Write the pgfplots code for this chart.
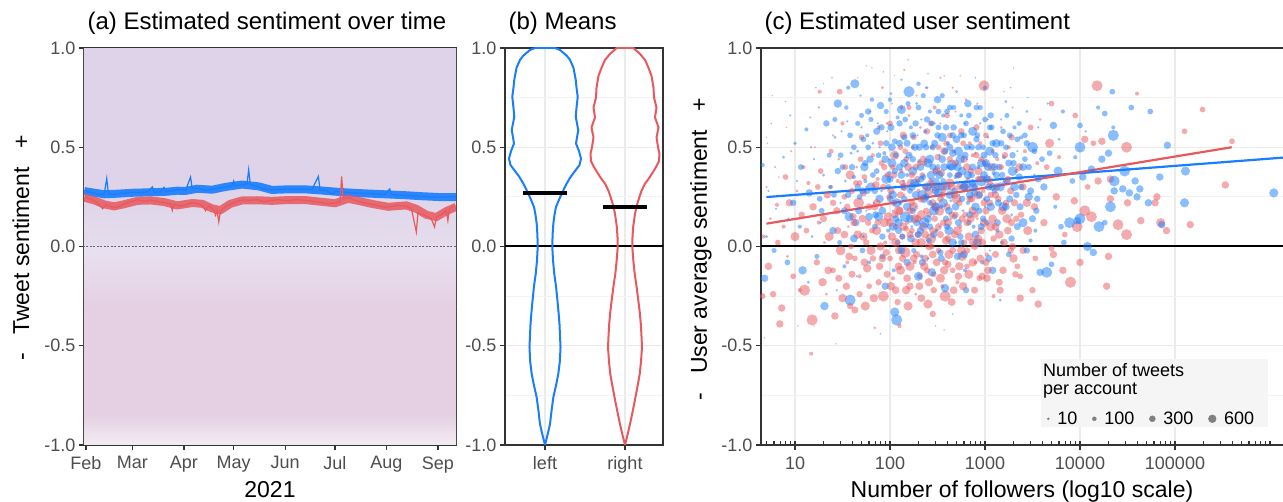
\documentclass[border=0pt]{standalone}
\usepackage{fontspec}
\setmainfont{Liberation Sans}
\usepackage{pgfplots}
\pgfplotsset{compat=1.18}

\definecolor{lblue}{RGB}{24,125,255}
\definecolor{lred}{RGB}{232,88,93}
\definecolor{gthirty}{HTML}{4D4D4D}
\definecolor{gtwenty}{HTML}{333333}
\definecolor{gridc}{HTML}{EBEBEB}
\definecolor{gridm}{HTML}{F3F3F3}
\definecolor{bgA}{RGB}{222,211,232}
\definecolor{bgB}{RGB}{229,221,238}
\definecolor{bgC}{RGB}{232,225,241}
\definecolor{bgD}{RGB}{229,208,227}
\definecolor{bgE}{RGB}{243,236,243}

\newcommand\fs[1]{\fontsize{#1}{#1}\selectfont}

\pgfplotsset{
  panel/.style={
    scale only axis, height=397pt, anchor=south west,
    axis line style={gtwenty, line width=1.3pt},
    tick style={gtwenty, line width=1.2pt},
    major tick length=5pt, minor tick length=0pt,
    tick align=outside, xtick pos=left, ytick pos=left,
    tick label style={font=\fs{18}, text=gthirty},
    xticklabel style={yshift=-3pt},
    ymin=-1, ymax=1, ytick={-1,-0.5,0,0.5,1},
    yticklabels={-1.0,-0.5,0.0,0.5,1.0},
  },
  dots/.style={scatter, only marks, mark=*,
    scatter/use mapped color={draw=#1, draw opacity=0, fill=#1, fill opacity=0.5},
    visualization depends on={\thisrow{s}\as\ms},
    scatter/@pre marker code/.append style={/tikz/mark size={min(1.7*\ms-0.5,5.6)}}},
}

\begin{document}
\begin{tikzpicture}
\useasboundingbox (0pt,0pt) rectangle (1283pt,502pt);

% (a) sentiment over time
\begin{axis}[panel, at={(84pt,57pt)}, width=372pt,
  xmin=-1.2, xmax=222.9,
  xtick={0,28,59,89,120,150,181,212},
  xticklabels={Feb,Mar,Apr,May,Jun,Jul,Aug,Sep}]
\addplot[draw=none, fill=bgA] coordinates {(-2,0.3) (224,0.3) (224,1) (-2,1)} -- cycle;
\addplot[draw=none, top color=bgA, bottom color=bgB] coordinates {(-2,0) (224,0) (224,0.3) (-2,0.3)} -- cycle;
\addplot[draw=none, top color=bgC, bottom color=bgD] coordinates {(-2,-0.3) (224,-0.3) (224,0) (-2,0)} -- cycle;
\addplot[draw=none, fill=bgD] coordinates {(-2,-0.85) (224,-0.85) (224,-0.3) (-2,-0.3)} -- cycle;
\addplot[draw=none, top color=bgD, bottom color=bgE] coordinates {(-2,-1) (224,-1) (224,-0.85) (-2,-0.85)} -- cycle;
\addplot[black!80, line width=1.3pt, dash pattern=on 2pt off 1.5pt, opacity=0.7] coordinates {(-2,0) (224,0)};
% smoothed bands
\addplot[lblue, line width=8pt, opacity=0.9] table {
-1 0.279
5 0.271
11 0.263
19 0.266
29 0.271
39 0.273
49 0.276
55 0.281
60 0.280
67 0.291
76 0.286
84 0.300
94 0.312
104 0.303
112 0.285
122 0.288
132 0.288
142 0.282
152 0.275
162 0.270
172 0.266
183 0.262
193 0.258
203 0.253
213 0.249
223 0.249
};
\addplot[lred, line width=8pt, opacity=0.85] table {
-1 0.246
5 0.232
11 0.212
17 0.202
23 0.213
31 0.230
39 0.232
47 0.224
55 0.207
64 0.219
70 0.215
76 0.192
81 0.183
87 0.215
94 0.232
103 0.233
112 0.230
122 0.234
132 0.234
142 0.225
150 0.218
158 0.240
164 0.230
172 0.215
182 0.200
193 0.207
199 0.190
205 0.160
211 0.148
217 0.178
223 0.200
};
% daily values
\addplot[lblue, line width=1.2pt] table {
-1 0.282
2 0.274
5 0.268
8 0.262
11 0.264
12.5 0.343
13.5 0.266
17 0.262
21 0.268
25 0.270
29 0.273
33 0.271
37 0.276
40 0.300
41 0.272
45 0.276
47 0.298
48 0.277
52 0.280
56 0.288
60 0.283
63 0.350
64 0.292
68 0.293
72 0.282
76 0.288
80 0.294
84 0.300
88 0.306
89 0.330
90 0.305
94 0.312
97 0.315
98 0.387
99 0.312
103 0.303
107 0.290
112 0.285
116 0.287
121 0.289
126 0.288
131 0.288
136 0.286
140 0.353
141 0.284
145 0.280
149 0.262
150 0.278
154 0.275
158 0.272
162 0.270
166 0.268
170 0.267
175 0.265
180 0.263
183 0.290
184 0.262
188 0.258
193 0.257
198 0.255
203 0.252
208 0.250
213 0.249
218 0.250
223 0.252
};
\addplot[lred, line width=1.2pt] table {
-1 0.250
3 0.238
6 0.226
9 0.200
10 0.190
12 0.212
15 0.200
18 0.196
21 0.205
24 0.218
28 0.228
31 0.236
35 0.228
39 0.234
43 0.226
47 0.222
51 0.215
52 0.182
53 0.212
57 0.204
61 0.212
64 0.222
68 0.214
71 0.200
72 0.180
74 0.205
77 0.185
78 0.157
79 0.180
80 0.124
81 0.178
84 0.200
87 0.214
91 0.228
95 0.235
99 0.232
103 0.236
107 0.226
111 0.232
116 0.236
121 0.230
126 0.236
131 0.233
136 0.228
141 0.223
146 0.215
150 0.220
153 0.225
154 0.353
155 0.240
158 0.246
161 0.236
164 0.228
168 0.218
172 0.212
176 0.205
180 0.198
184 0.202
188 0.208
192 0.205
196 0.192
199 0.073
200 0.170
203 0.160
206 0.150
208 0.140
210 0.098
211 0.150
214 0.160
217 0.182
218 0.130
219 0.190
222 0.205
};
\end{axis}

% (b) means
\begin{axis}[panel, at={(505pt,57pt)}, width=158pt,
  xmin=0.5, xmax=2.475, xtick={1,2}, xticklabels={left,right},
  minor ytick={-0.75,-0.25,0.25,0.75},
  xmajorgrids, ymajorgrids, yminorgrids,
  major grid style={gridc, line width=1.3pt},
  minor grid style={gridm, line width=0.9pt}]
\addplot[black, line width=2pt] coordinates {(0.4,0) (2.6,0)};
\addplot[lblue, line width=2pt, line join=round] coordinates {
(0.875,1.00) (0.8125,0.99) (0.725,0.96) (0.6875,0.94) (0.644,0.90) (0.616,0.84)
(0.606,0.80) (0.591,0.754) (0.606,0.70) (0.616,0.653) (0.60,0.62) (0.584,0.586)
(0.60,0.55) (0.6125,0.519) (0.575,0.48) (0.55,0.443) (0.569,0.41) (0.625,0.38)
(0.681,0.35) (0.729,0.317) (0.7625,0.29) (0.791,0.266) (0.831,0.23) (0.8625,0.199)
(0.881,0.16) (0.896,0.115) (0.905,0.06) (0.909,0.00) (0.90,-0.07) (0.884,-0.138)
(0.8625,-0.20) (0.844,-0.273) (0.831,-0.33) (0.819,-0.39) (0.8125,-0.45) (0.806,-0.508)
(0.815,-0.58) (0.834,-0.643) (0.8625,-0.70) (0.896,-0.76) (0.919,-0.83) (0.9375,-0.895)
(0.969,-0.95) (1,-1)
(1.031,-0.95) (1.0625,-0.895) (1.081,-0.83) (1.104,-0.76) (1.1375,-0.70) (1.166,-0.643)
(1.185,-0.58) (1.194,-0.508) (1.1875,-0.45) (1.181,-0.39) (1.169,-0.33) (1.156,-0.273)
(1.1375,-0.20) (1.116,-0.138) (1.10,-0.07) (1.091,0.00) (1.095,0.06) (1.104,0.115)
(1.119,0.16) (1.1375,0.199) (1.169,0.23) (1.209,0.266) (1.2375,0.29) (1.271,0.317)
(1.319,0.35) (1.375,0.38) (1.431,0.41) (1.45,0.443) (1.425,0.48) (1.3875,0.519)
(1.40,0.55) (1.416,0.586) (1.40,0.62) (1.384,0.653) (1.394,0.70) (1.409,0.754)
(1.394,0.80) (1.384,0.84) (1.356,0.90) (1.3125,0.94) (1.275,0.96) (1.1875,0.99)
(1.125,1.00)} -- cycle;
\addplot[lred, line width=2pt, line join=round] coordinates {
(1.896,1.00) (1.8125,0.97) (1.75,0.94) (1.706,0.90) (1.669,0.86) (1.644,0.80)
(1.6375,0.75) (1.606,0.70) (1.625,0.65) (1.581,0.60) (1.606,0.55) (1.5875,0.50)
(1.569,0.468) (1.575,0.43) (1.6125,0.40) (1.6625,0.367) (1.706,0.34) (1.75,0.317)
(1.794,0.28) (1.819,0.25) (1.85,0.21) (1.875,0.165) (1.8975,0.10) (1.906,0.05)
(1.909,0.00) (1.896,-0.07) (1.879,-0.138) (1.856,-0.20) (1.834,-0.27) (1.816,-0.33)
(1.8025,-0.39) (1.794,-0.45) (1.7875,-0.508) (1.80,-0.58) (1.816,-0.643) (1.846,-0.71)
(1.879,-0.78) (1.909,-0.84) (1.9375,-0.895) (1.969,-0.95) (2,-1)
(2.031,-0.95) (2.0625,-0.895) (2.091,-0.84) (2.121,-0.78) (2.154,-0.71) (2.184,-0.643)
(2.20,-0.58) (2.2125,-0.508) (2.206,-0.45) (2.1975,-0.39) (2.184,-0.33) (2.166,-0.27)
(2.144,-0.20) (2.121,-0.138) (2.104,-0.07) (2.091,0.00) (2.094,0.05) (2.1025,0.10)
(2.125,0.165) (2.15,0.21) (2.181,0.25) (2.206,0.28) (2.25,0.317) (2.294,0.34)
(2.3375,0.367) (2.3875,0.40) (2.425,0.43) (2.431,0.468) (2.4125,0.50) (2.394,0.55)
(2.419,0.60) (2.375,0.65) (2.394,0.70) (2.3625,0.75) (2.356,0.80) (2.331,0.86)
(2.294,0.90) (2.25,0.94) (2.1875,0.97) (2.104,1.00)} -- cycle;
\addplot[black, line width=4.5pt] coordinates {(0.725,0.27) (1.275,0.27)};
\addplot[black, line width=4.5pt] coordinates {(1.725,0.20) (2.275,0.20)};
\end{axis}

% (c) user sentiment, x = log10(followers)
\begin{axis}[panel, at={(761pt,57pt)}, width=524pt,
  xmin=0.642, xmax=6.158,
  xtick={1,2,3,4,5}, xticklabels={10,100,1000,10000,100000},
  extra x ticks={0.699,0.778,0.845,0.903,0.954,
    1,1.301,1.477,1.602,1.699,1.778,1.845,1.903,1.954,
    2,2.301,2.477,2.602,2.699,2.778,2.845,2.903,2.954,
    3,3.301,3.477,3.602,3.699,3.778,3.845,3.903,3.954,
    4,4.301,4.477,4.602,4.699,4.778,4.845,4.903,4.954,
    5,5.301,5.477,5.602,5.699,5.778,5.845,5.903,5.954,6},
  extra x tick labels={},
  extra x tick style={grid=none, tick align=inside, major tick length=4pt},
  minor ytick={-0.75,-0.25,0.25,0.75},
  xmajorgrids, ymajorgrids, yminorgrids,
  major grid style={gridc, line width=1.3pt},
  minor grid style={gridm, line width=0.9pt},
  legend columns=4,
  legend style={at={(rel axis cs:0.546,0.066)}, anchor=west, draw=none, fill=none,
    font=\fs{18}, inner sep=0pt,
    /tikz/every odd column/.append style={column sep=6pt},
    /tikz/every even column/.append style={column sep=13pt}},
  legend image code/.code={\draw[mark repeat=2, mark phase=2, #1]
    plot coordinates {(0pt,0pt) (5pt,0pt) (10pt,0pt)};}]
\addplot[black, line width=2pt, forget plot] coordinates {(0.6,0) (6.3,0)};
\addplot[dots=lred, forget plot] table {
x y s
0.66 -0.25 2.0
0.68 -0.46 0.8
0.67 0.05 1.5
0.70 0.30 1.0
0.72 -0.10 2.5
0.74 0.14 1.2
0.77 -0.24 2.2
0.79 0.40 1.0
0.82 0.02 2.0
0.84 -0.39 2.5
0.71 0.52 0.8
0.81 0.21 1.5
0.86 -0.31 2.5
0.88 0.10 1.5
0.90 0.35 2.0
0.92 -0.05 1.2
0.94 0.22 2.5
0.96 0.48 1.0
0.98 -0.15 2.0
1.00 0.05 3.0
1.02 0.28 1.2
1.05 -0.22 1.5
1.07 0.16 2.2
1.09 0.40 1.5
0.91 0.60 0.8
1.03 -0.40 0.8
1.10 -0.22 4.0
1.12 0.08 2.0
1.14 0.32 1.5
1.17 -0.54 1.5
1.18 -0.37 4.0
1.19 0.20 2.5
1.21 0.50 1.0
1.23 -0.08 2.2
1.25 0.12 1.5
1.27 0.38 2.0
1.29 -0.18 2.8
1.31 0.02 1.2
1.33 -0.24 1.2
1.34 0.26 2.5
1.16 0.65 1.0
1.26 0.78 1.5
1.20 -0.40 0.8
1.36 0.05 3.0
1.38 0.30 1.5
1.40 -0.12 2.0
1.42 -0.35 2.5
1.43 -0.49 0.8
1.44 0.18 2.5
1.46 0.44 1.2
1.48 -0.02 3.2
1.50 0.62 1.5
1.52 0.25 2.0
1.54 -0.20 2.5
1.56 0.10 1.2
1.58 0.36 3.0
1.40 0.56 1.0
1.47 0.78 2.0
1.55 -0.08 1.5
1.59 0.00 2.0
1.61 0.15 2.5
1.63 -0.06 2.0
1.65 0.40 1.2
1.67 0.22 3.5
1.68 -0.15 1.5
1.70 0.55 2.0
1.72 0.05 2.8
1.74 -0.30 3.0
1.75 0.30 1.2
1.77 0.12 2.2
1.79 0.68 1.0
1.80 -0.02 3.0
1.82 0.46 1.5
1.84 0.20 2.5
1.84 -0.41 1.2
1.66 0.85 0.8
1.73 0.35 2.0
1.78 -0.20 2.0
1.81 0.90 0.8
1.86 0.08 3.0
1.87 0.34 1.5
1.89 -0.10 2.5
1.90 0.52 2.0
1.91 0.20 1.2
1.93 -0.25 3.5
1.94 0.40 2.2
1.95 0.02 1.5
1.97 0.62 1.2
1.98 0.15 3.0
2.00 -0.06 2.0
2.01 0.28 2.5
2.02 0.72 1.0
2.03 -0.16 1.5
2.05 0.46 3.0
2.06 0.10 2.0
2.08 0.33 1.5
2.09 -0.02 2.5
1.92 0.80 1.2
1.99 0.44 1.0
2.04 0.22 2.2
1.88 0.60 1.5
2.10 0.18 2.5
2.11 -0.12 3.0
2.12 0.38 1.5
2.13 0.05 2.2
2.14 0.56 2.5
2.15 0.26 1.2
2.16 -0.03 3.5
2.17 0.44 2.0
2.18 0.12 1.5
2.19 -0.30 3.0
2.20 0.66 1.2
2.21 -0.20 2.5
2.22 0.32 2.8
2.23 0.08 2.0
2.24 0.50 1.5
2.25 0.20 3.0
2.26 -0.08 1.5
2.27 0.40 2.2
2.28 0.76 1.0
2.29 0.14 2.5
2.30 0.28 1.5
2.31 -0.15 2.0
2.32 0.60 1.2
2.33 0.02 3.0
2.34 0.36 2.0
2.15 0.89 1.0
2.21 0.46 1.0
2.27 -0.24 1.2
2.12 0.70 1.5
2.35 0.10 3.0
2.36 0.42 2.0
2.37 -0.06 2.5
2.38 0.25 1.5
2.39 0.58 2.2
2.40 -0.29 3.0
2.41 0.16 2.0
2.42 0.34 1.2
2.43 0.04 3.5
2.44 0.50 1.5
2.45 0.22 2.5
2.46 -0.14 2.0
2.47 0.70 1.5
2.48 0.30 3.0
2.49 0.08 1.2
2.50 0.45 2.2
2.51 -0.02 2.0
2.52 0.18 3.2
2.53 0.62 1.0
2.54 0.37 2.5
2.55 -0.20 1.5
2.56 0.12 2.2
2.57 0.28 1.5
2.58 -0.25 4.0
2.59 0.52 2.0
2.38 0.80 1.2
2.48 -0.40 0.8
2.53 0.85 1.0
2.44 0.00 2.0
2.57 -0.42 0.8
2.60 0.20 2.5
2.61 0.40 1.5
2.62 -0.04 3.0
2.63 0.56 2.0
2.64 0.14 1.2
2.65 0.30 2.8
2.66 -0.12 2.0
2.67 0.48 1.5
2.68 0.06 2.5
2.69 0.68 1.0
2.70 0.24 3.2
2.71 -0.18 1.5
2.72 -0.15 2.5
2.73 0.36 2.0
2.74 0.10 1.5
2.75 0.58 2.2
2.76 -0.05 3.0
2.77 0.28 1.2
2.78 0.44 2.5
2.79 0.16 2.0
2.80 0.74 1.2
2.81 -0.10 2.0
2.82 0.34 1.5
2.83 0.05 2.8
2.84 0.52 1.5
2.66 0.80 1.0
2.74 0.86 0.8
2.86 0.24 2.5
2.87 0.46 1.5
2.88 0.02 3.0
2.89 0.30 2.0
2.90 -0.08 1.5
2.91 0.60 2.2
2.92 0.14 1.2
2.93 0.38 2.8
2.94 -0.16 2.0
2.95 0.52 1.5
2.96 0.08 2.5
2.97 -0.15 2.5
2.98 0.28 1.5
2.99 0.81 3.5
3.00 0.42 2.0
3.01 0.18 2.5
3.02 -0.04 1.5
3.03 0.64 1.0
3.04 0.34 2.2
3.06 0.10 3.0
3.08 0.48 1.5
3.09 -0.25 1.5
2.92 0.72 1.0
3.11 0.26 2.5
3.13 0.44 1.5
3.15 0.06 2.8
3.17 0.60 1.2
3.19 -0.12 2.5
3.21 0.32 2.0
3.23 0.14 3.0
3.25 0.50 1.5
3.27 -0.02 2.2
3.29 0.70 1.0
3.31 0.22 2.5
3.33 0.38 1.5
3.34 -0.10 2.0
3.20 0.78 0.8
3.28 0.55 2.2
3.37 -0.26 2.5
3.37 -0.15 2.0
3.40 0.30 2.5
3.42 0.48 1.5
3.45 0.08 3.0
3.48 0.60 2.0
3.50 -0.22 2.2
3.52 0.20 2.5
3.55 0.42 1.5
3.56 -0.29 2.5
3.58 0.64 1.2
3.46 0.33 1.2
3.53 -0.06 2.0
3.62 0.12 2.5
3.65 0.40 2.0
3.68 0.52 3.0
3.70 0.72 2.0
3.70 -0.01 2.0
3.72 -0.04 2.5
3.75 0.25 2.5
3.78 0.45 1.5
3.82 -0.12 2.5
3.84 0.06 2.0
3.90 -0.18 4.0
3.94 0.23 2.5
3.95 0.66 2.0
3.97 0.10 3.5
4.00 -0.08 2.5
4.05 0.18 3.5
4.05 0.54 2.5
4.08 0.30 2.0
4.12 0.15 3.5
4.14 0.52 2.0
4.18 0.81 3.5
4.19 0.33 2.5
4.23 0.53 2.5
4.28 -0.20 2.5
4.30 -0.05 2.5
4.32 0.24 2.5
4.32 0.34 2.5
4.40 0.11 3.5
4.49 0.50 3.5
4.49 0.06 3.5
4.50 0.22 2.5
4.60 0.77 1.5
4.64 0.13 2.5
4.79 0.22 2.5
4.81 0.25 2.5
4.85 0.12 3.0
4.91 0.08 2.5
5.10 0.58 2.0
5.16 0.11 2.5
5.29 0.69 2.0
5.53 0.31 2.5
5.60 0.53 2.0
};
\addplot[dots=lblue, forget plot] table {
x y s
0.66 0.41 1.5
0.70 0.05 1.2
0.68 -0.16 2.5
0.72 0.28 1.0
0.75 0.62 0.8
0.78 -0.02 1.8
0.80 0.19 1.0
0.83 0.35 0.8
0.70 0.55 0.7
0.76 0.76 0.7
0.88 0.45 1.2
0.92 -0.08 2.0
0.95 0.66 1.0
0.98 0.22 2.2
1.02 0.33 1.0
1.05 0.10 1.5
0.90 0.73 0.8
1.08 -0.12 2.8
1.00 0.52 1.4
0.93 0.14 1.0
1.06 0.40 2.0
1.12 0.59 1.5
1.15 0.27 2.5
1.18 0.05 1.2
1.20 0.44 1.0
1.23 -0.05 1.8
1.25 0.70 1.0
1.28 0.18 2.0
1.30 0.36 1.2
1.33 0.62 2.2
1.14 -0.18 1.2
1.22 0.80 0.8
1.27 0.12 1.0
1.31 -0.30 2.8
1.17 0.50 1.0
1.37 0.30 1.5
1.40 0.08 2.5
1.42 0.55 1.2
1.45 0.72 2.8
1.48 0.22 1.0
1.50 0.40 2.0
1.52 -0.10 1.5
1.55 0.63 1.0
1.57 0.15 3.0
1.59 0.47 1.2
1.39 0.85 0.8
1.44 -0.22 1.0
1.47 0.02 1.8
1.53 0.33 1.2
1.56 0.80 1.5
1.58 -0.27 3.8
1.41 0.26 2.0
1.49 0.58 1.0
1.63 0.82 3.0
1.62 0.35 1.5
1.64 0.12 2.5
1.66 0.48 1.2
1.68 0.25 2.0
1.70 0.60 1.0
1.72 0.05 1.2
1.73 0.40 2.8
1.75 0.18 1.0
1.77 0.68 2.2
1.78 -0.08 1.5
1.80 0.30 3.0
1.82 0.52 1.2
1.84 0.10 2.0
1.65 -0.15 1.0
1.69 0.76 1.0
1.74 0.33 1.5
1.79 0.44 2.5
1.83 0.22 1.0
1.71 -0.02 2.0
1.76 0.56 1.5
1.86 0.38 2.0
1.87 0.62 1.0
1.88 0.15 3.0
1.90 0.71 2.5
1.91 0.28 1.2
1.92 -0.05 2.0
1.94 0.47 1.5
1.95 -0.20 2.5
1.96 0.34 3.2
1.97 0.58 1.0
1.98 0.08 1.5
2.00 0.24 2.2
2.01 0.77 1.2
2.02 0.42 3.0
2.03 0.18 1.0
2.04 -0.12 1.5
2.05 0.53 2.0
2.06 0.30 1.2
2.07 -0.37 4.6
2.05 -0.33 3.0
2.08 0.65 1.5
2.09 0.12 2.8
1.89 0.50 1.0
1.93 0.88 0.8
1.99 0.37 1.5
2.08 0.02 2.0
1.90 -0.44 0.8
2.10 0.40 2.5
2.11 0.22 1.5
2.12 0.69 3.0
2.13 0.05 2.0
2.14 0.33 1.2
2.15 0.55 2.2
2.16 0.15 3.5
2.17 0.45 1.0
2.18 -0.08 2.5
2.19 0.94 0.8
2.20 0.78 4.0
2.21 0.28 2.0
2.22 0.60 1.5
2.23 0.10 1.2
2.24 0.38 3.0
2.25 -0.02 1.8
2.26 0.50 2.5
2.27 0.20 1.0
2.28 0.72 1.2
2.29 0.32 2.2
2.30 -0.15 3.0
2.31 0.43 1.5
2.32 0.08 2.5
2.33 0.64 1.0
2.34 0.26 3.2
2.12 0.84 1.0
2.18 0.36 1.5
2.24 0.18 2.2
2.29 0.56 1.0
2.33 -0.05 1.5
2.35 0.35 2.0
2.36 0.12 3.5
2.37 0.58 1.5
2.38 0.25 2.5
2.39 0.80 1.2
2.40 0.42 3.0
2.41 0.03 2.0
2.42 0.68 1.5
2.43 0.30 1.0
2.44 -0.13 2.8
2.45 0.50 2.2
2.46 0.18 3.2
2.47 0.62 1.0
2.48 0.38 2.0
2.49 0.08 1.5
2.50 0.74 2.5
2.51 0.27 3.0
2.52 0.46 1.2
2.53 -0.03 2.2
2.54 0.20 1.5
2.55 0.55 3.0
2.56 0.33 2.0
2.57 0.86 0.8
2.58 -0.21 2.8
2.59 0.14 2.2
2.37 0.44 1.0
2.42 0.22 2.0
2.47 0.32 3.5
2.52 0.10 1.0
2.56 0.66 1.5
2.40 -0.06 1.2
2.50 0.40 2.0
2.60 0.30 2.5
2.61 0.52 1.5
2.62 0.08 3.0
2.63 0.70 2.0
2.64 0.23 1.2
2.65 0.41 3.5
2.66 -0.34 0.8
2.67 0.60 2.2
2.68 0.15 2.0
2.69 0.35 1.5
2.70 0.78 1.2
2.71 -0.05 2.5
2.72 0.48 3.0
2.73 0.26 1.0
2.74 0.05 2.2
2.75 0.66 1.5
2.76 0.38 2.8
2.77 0.18 1.2
2.78 0.56 2.0
2.79 -0.12 1.5
2.80 0.31 3.2
2.81 0.44 1.0
2.82 0.72 2.5
2.83 0.12 2.0
2.84 0.50 1.2
2.63 0.36 2.0
2.69 0.02 1.0
2.74 0.30 1.5
2.79 0.62 1.0
2.66 0.47 2.5
2.82 0.22 1.5
2.86 0.36 2.2
2.87 0.58 3.0
2.88 0.10 1.5
2.89 0.27 2.5
2.90 0.47 1.2
2.91 0.70 2.0
2.92 0.02 3.0
2.93 0.40 1.5
2.94 0.18 2.2
2.95 0.62 1.0
2.96 0.33 3.5
2.97 -0.08 1.5
2.98 0.50 2.0
2.99 0.24 1.2
3.00 0.80 1.5
3.01 0.42 2.8
3.02 0.12 2.0
3.03 0.55 1.2
3.04 0.30 2.5
3.05 -0.02 1.0
3.06 0.66 2.2
3.08 -0.12 2.5
3.09 0.37 1.5
2.90 0.85 0.8
3.00 0.20 1.0
3.05 0.48 3.0
3.10 0.28 2.0
3.12 0.52 2.8
3.13 0.08 1.5
3.15 0.40 2.2
3.16 -0.27 1.2
3.17 0.64 1.0
3.19 0.20 3.0
3.20 0.45 1.5
3.22 0.73 1.2
3.23 0.33 2.5
3.25 -0.04 2.0
3.26 0.56 2.0
3.28 0.16 1.2
3.29 0.38 3.2
3.31 0.60 1.5
3.33 0.26 2.2
3.34 0.48 1.0
3.18 0.02 1.5
3.27 0.80 0.8
3.36 0.35 2.5
3.38 0.55 1.5
3.40 0.12 3.0
3.42 0.44 2.0
3.44 0.68 1.2
3.46 0.25 2.8
3.48 0.03 1.5
3.50 0.50 3.5
3.52 0.36 1.2
3.54 0.18 2.2
3.56 0.60 1.0
3.58 -0.13 2.5
3.45 0.75 0.8
3.53 0.08 1.5
3.62 0.30 2.5
3.65 -0.13 3.5
3.68 0.47 2.0
3.70 -0.09 2.0
3.72 0.61 2.5
3.74 0.20 1.5
3.77 0.38 3.0
3.80 0.10 2.0
3.82 0.68 1.5
3.83 0.02 2.0
3.66 0.72 1.0
3.78 0.54 1.2
3.89 0.12 3.5
3.92 0.33 2.0
3.97 0.13 2.5
4.00 0.14 3.5
4.00 0.50 3.5
4.00 0.61 2.0
4.03 0.35 2.5
3.95 0.45 1.5
4.08 -0.00 3.0
4.06 0.58 1.0
4.12 0.39 2.5
4.14 -0.03 2.5
4.20 0.10 3.5
4.23 0.44 2.5
4.26 0.12 2.0
4.26 0.67 2.0
4.19 0.70 1.5
4.30 0.47 2.5
4.32 0.20 3.5
4.35 0.56 4.0
4.35 0.60 1.5
4.36 0.33 3.5
4.36 0.28 2.5
4.34 0.78 2.0
4.45 0.29 2.5
4.47 0.38 3.5
4.52 0.27 2.5
4.54 0.70 2.0
4.58 0.33 2.5
4.60 0.25 2.5
4.63 0.29 2.5
4.72 0.22 2.5
4.74 0.68 2.0
4.84 0.35 2.5
4.86 0.11 2.5
4.92 0.51 2.5
5.10 0.22 3.0
5.11 0.38 3.0
6.04 0.27 3.0
1.75 0.91 0.7
2.05 0.86 0.7
2.40 0.87 0.8
1.30 0.82 0.7
3.30 0.90 0.7
};
\addplot[dots=lred, forget plot] table {
x y s
1.72 0.27 2.4
1.76 -0.11 2.8
1.81 0.08 2.0
1.85 0.31 2.6
1.88 -0.18 2.2
1.91 0.42 2.0
1.94 0.12 3.0
1.96 -0.03 2.4
1.99 0.25 2.0
2.02 0.05 2.8
2.04 0.36 2.4
2.06 -0.22 2.6
2.09 0.18 3.2
2.11 0.50 2.0
2.13 -0.06 2.4
2.15 0.30 2.8
2.17 0.09 2.0
2.19 0.40 2.6
2.21 -0.10 3.0
2.23 0.22 2.4
2.25 0.55 2.0
2.27 0.02 2.8
2.29 0.34 2.2
2.31 -0.20 2.6
2.33 0.16 3.0
2.35 0.44 2.4
2.37 0.06 2.6
2.39 -0.12 2.2
2.41 0.28 3.0
2.43 0.62 2.0
2.45 -0.04 2.6
2.47 0.14 2.2
2.49 0.38 2.8
2.51 0.10 2.4
2.53 -0.16 3.0
2.55 0.26 2.2
2.57 0.48 2.6
2.59 0.03 2.8
2.61 -0.09 2.4
2.63 0.32 3.0
2.65 0.16 2.2
2.67 -0.22 2.6
2.69 0.42 2.4
2.71 0.08 3.0
2.73 0.22 2.2
2.75 -0.02 2.8
2.77 0.52 2.0
2.79 0.30 2.6
2.81 0.12 2.4
2.83 -0.14 3.0
2.85 0.38 2.2
2.87 0.18 2.8
2.89 0.00 2.4
2.91 0.46 2.2
2.93 0.26 3.0
2.95 -0.06 2.6
2.97 0.34 2.2
2.99 0.12 2.8
3.01 0.56 2.0
3.03 -0.12 2.6
3.05 0.22 2.4
3.07 0.40 2.8
3.09 0.04 2.2
3.12 0.30 2.6
3.15 -0.18 2.4
3.18 0.18 2.8
3.21 0.46 2.2
3.24 0.08 2.6
3.27 0.28 2.4
3.30 -0.06 2.8
3.33 0.14 2.2
3.36 0.40 2.6
3.40 -0.02 2.4
3.44 0.22 2.8
1.45 0.08 2.4
1.50 -0.26 2.8
1.53 0.40 2.0
1.57 -0.05 2.6
1.60 0.28 2.2
1.63 -0.32 2.4
1.66 0.06 2.8
1.69 0.44 2.0
1.30 0.14 2.4
1.35 -0.12 2.6
1.24 0.30 2.0
1.38 0.48 1.8
2.00 0.62 2.0
2.20 0.70 1.8
2.60 0.66 2.0
2.45 -0.34 2.2
2.85 -0.28 2.4
2.10 -0.40 1.6
};
\addplot[dots=lblue, forget plot] table {
x y s
1.74 0.42 2.2
1.78 0.15 2.6
1.82 0.36 2.0
1.86 0.58 2.4
1.89 0.24 2.8
1.92 0.05 2.2
1.95 0.44 2.6
1.98 0.30 2.0
2.01 0.60 2.4
2.03 0.10 2.8
2.05 0.38 2.2
2.07 0.22 3.0
2.10 0.52 2.4
2.12 -0.02 2.6
2.14 0.30 2.2
2.16 0.64 2.0
2.18 0.20 2.8
2.20 0.46 2.4
2.22 0.04 2.6
2.24 0.56 2.2
2.26 0.32 3.0
2.28 0.12 2.4
2.30 0.70 2.0
2.32 0.40 2.6
2.34 -0.08 2.4
2.36 0.24 2.8
2.38 0.50 2.2
2.40 0.14 2.6
2.42 0.44 3.0
2.44 0.62 2.0
2.46 0.06 2.4
2.48 0.28 2.6
2.50 0.56 2.2
2.52 0.36 2.8
2.54 -0.06 2.4
2.56 0.22 3.0
2.58 0.48 2.2
2.60 0.68 2.0
2.62 0.18 2.6
2.64 0.40 2.4
2.66 0.02 2.8
2.68 0.28 2.2
2.70 0.54 2.6
2.72 0.12 2.4
2.74 0.44 3.0
2.76 0.24 2.2
2.78 -0.04 2.6
2.80 0.62 2.0
2.82 0.36 2.8
2.84 0.16 2.4
2.86 0.50 2.2
2.88 0.30 3.0
2.90 0.06 2.6
2.92 0.56 2.0
2.94 0.26 2.4
2.96 0.42 2.8
2.98 0.14 2.2
3.00 0.64 2.0
3.02 0.34 2.6
3.04 -0.06 2.4
3.06 0.20 2.8
3.08 0.52 2.2
3.10 0.40 2.6
3.13 0.12 2.4
3.16 0.30 3.0
3.19 0.58 2.0
3.22 0.20 2.6
3.25 0.42 2.4
3.28 0.04 2.2
3.31 0.30 2.8
3.34 0.54 2.0
3.37 0.20 2.4
3.40 0.40 2.6
3.44 -0.02 2.2
3.48 0.28 2.4
3.52 0.48 2.0
3.56 0.34 2.4
1.45 0.38 2.2
1.52 0.18 2.4
1.58 0.56 2.0
1.62 0.04 2.6
1.66 0.30 2.2
1.70 0.66 1.8
1.36 0.46 1.8
1.26 0.24 2.0
2.30 0.82 1.6
2.55 0.76 1.8
2.00 0.74 1.6
2.80 -0.22 2.2
};
\addplot[dots=lred, forget plot] table {
x y s
1.82 -0.06 2.2
1.86 0.22 2.6
1.90 0.00 2.8
1.93 0.30 2.2
1.97 -0.14 2.4
2.00 0.12 2.6
2.03 0.40 2.0
2.06 0.02 3.0
2.08 -0.28 2.2
2.11 0.26 2.4
2.14 0.10 2.8
2.16 0.48 2.0
2.18 -0.16 2.6
2.21 0.06 2.4
2.23 0.36 2.2
2.26 0.14 3.0
2.28 -0.04 2.4
2.31 0.42 2.0
2.33 0.24 2.6
2.36 -0.10 2.8
2.38 0.18 2.2
2.41 0.00 2.6
2.43 0.32 2.4
2.46 -0.22 2.2
2.48 0.20 3.0
2.51 0.50 2.0
2.53 0.06 2.4
2.56 0.30 2.6
2.58 -0.08 2.2
2.61 0.12 2.8
2.63 0.44 2.2
2.66 -0.02 2.4
2.68 0.26 2.6
2.71 0.36 2.0
2.73 -0.10 2.8
2.76 0.14 2.4
2.78 0.02 2.2
2.81 0.40 2.6
2.84 0.24 2.4
2.87 -0.08 2.8
2.90 0.16 2.2
2.93 0.04 2.6
2.96 0.44 2.0
2.99 0.22 2.4
3.02 -0.16 2.6
3.05 0.32 2.2
3.08 0.14 2.8
3.11 -0.04 2.4
3.14 0.24 2.2
3.17 0.40 2.0
3.20 0.02 2.6
3.24 0.34 2.2
3.28 0.12 2.4
3.32 -0.14 2.2
1.55 0.20 2.2
1.60 -0.14 2.4
1.64 0.32 2.0
1.68 -0.24 2.2
1.71 0.14 2.6
1.75 0.02 2.2
1.40 0.22 2.2
1.46 -0.16 2.4
1.52 0.06 2.6
1.58 -0.30 2.2
1.62 0.12 2.4
1.68 0.32 2.0
1.73 -0.08 2.6
1.78 0.20 2.4
1.83 -0.26 2.8
1.87 0.12 2.2
1.92 -0.06 2.6
1.97 0.36 2.0
2.01 -0.20 2.8
2.05 0.16 2.4
2.09 -0.10 2.6
2.13 0.32 2.2
2.17 -0.22 2.8
2.21 0.18 2.4
2.25 -0.06 2.6
2.29 0.06 2.2
2.33 -0.26 2.6
2.37 0.30 2.2
2.41 -0.18 2.8
2.45 0.08 2.4
2.49 -0.08 2.6
2.53 0.24 2.2
2.57 -0.12 2.8
2.61 0.04 2.4
2.65 -0.28 2.6
2.69 0.16 2.2
2.73 0.30 2.4
2.77 -0.20 2.8
2.81 -0.02 2.2
2.85 0.14 2.6
2.89 -0.22 2.4
2.93 0.34 2.2
2.97 0.02 2.6
3.01 -0.08 2.4
3.06 0.26 2.2
3.11 0.10 2.6
3.16 -0.22 2.4
3.22 0.22 2.2
3.29 0.00 2.4
3.38 0.16 2.2
};
\addplot[dots=lblue, forget plot] table {
x y s
1.84 0.28 2.2
1.88 0.46 2.0
1.92 0.18 2.6
1.96 0.52 2.2
2.00 0.34 2.4
2.03 0.26 2.8
2.06 0.46 2.0
2.09 0.08 2.4
2.12 0.36 2.6
2.15 0.24 2.2
2.18 0.52 2.4
2.21 0.14 2.8
2.24 0.44 2.2
2.27 0.26 2.6
2.30 0.06 2.4
2.33 0.34 2.2
2.36 0.52 2.6
2.39 0.30 3.0
2.42 0.10 2.2
2.45 0.40 2.4
2.48 0.20 2.8
2.51 0.60 2.0
2.54 0.30 2.4
2.57 0.40 2.6
2.60 0.10 2.2
2.63 0.26 2.8
2.66 0.56 2.2
2.69 0.20 2.6
2.72 0.36 2.4
2.75 0.02 2.2
2.78 0.30 2.8
2.81 0.50 2.2
2.84 0.26 2.6
2.87 0.40 2.4
2.90 0.20 2.8
2.93 0.50 2.2
2.96 0.10 2.4
2.99 0.36 2.6
3.02 0.24 2.2
3.05 0.60 2.0
3.08 0.30 2.6
3.11 0.46 2.2
3.14 0.22 2.4
3.18 0.36 2.2
3.22 0.50 2.0
3.26 0.24 2.4
3.30 0.42 2.2
3.34 0.10 2.4
3.38 0.30 2.2
3.42 0.56 2.0
3.46 0.40 2.2
3.50 0.14 2.4
3.55 0.24 2.2
3.60 0.44 2.0
1.56 0.26 2.2
1.62 0.50 2.0
1.67 0.18 2.4
1.72 0.54 2.0
1.76 0.28 2.2
1.80 0.64 1.8
1.42 0.64 1.8
1.48 0.46 2.0
1.54 0.70 1.6
1.60 0.40 2.2
1.66 0.62 1.8
1.71 0.28 2.4
1.77 0.50 2.0
1.81 0.74 1.6
1.85 0.16 2.4
1.91 0.60 2.2
1.96 0.68 1.8
2.02 0.50 2.6
2.06 0.14 2.4
2.10 0.62 2.2
2.15 0.42 2.8
2.19 0.72 1.8
2.23 0.30 2.6
2.27 0.62 2.2
2.31 0.50 2.4
2.35 0.76 1.8
2.39 0.64 2.2
2.43 0.36 2.8
2.47 0.52 2.4
2.51 0.68 2.0
2.55 0.44 2.6
2.59 0.60 2.2
2.63 0.50 2.4
2.67 0.70 1.8
2.71 0.40 2.8
2.75 0.56 2.2
2.79 0.46 2.4
2.83 0.66 2.0
2.87 0.32 2.6
2.91 0.54 2.2
2.95 0.70 1.8
2.99 0.46 2.4
3.03 0.40 2.6
3.07 0.60 2.0
3.12 0.36 2.4
3.17 0.52 2.2
3.23 0.66 1.8
3.29 0.46 2.2
3.36 0.62 1.8
3.44 0.52 2.2
};
\addplot[lblue, line width=2.2pt, forget plot] coordinates {(0.699,0.249) (6.2,0.450)};
\addplot[lred, line width=2.2pt, forget plot] coordinates {(0.699,0.115) (5.597,0.500)};
\fill[black!4] (rel axis cs:0.534,0.045) rectangle (rel axis cs:0.967,0.216);
\addlegendimage{only marks, mark=*, mark size=1.0, draw=black!50, fill=black!50}
\addlegendentry{10}
\addlegendimage{only marks, mark=*, mark size=2.0, draw=black!50, fill=black!50}
\addlegendentry{100}
\addlegendimage{only marks, mark=*, mark size=3.0, draw=black!50, fill=black!50}
\addlegendentry{300}
\addlegendimage{only marks, mark=*, mark size=3.9, draw=black!50, fill=black!50}
\addlegendentry{600}
\end{axis}

% titles and axis labels
\node[anchor=base west, font=\fs{24}] at (84pt,472pt) {(a) Estimated sentiment over time};
\node[anchor=base west, font=\fs{24}] at (505pt,472pt) {(b) Means};
\node[anchor=base west, font=\fs{24}] at (761pt,472pt) {(c) Estimated user sentiment};
\node[anchor=base, font=\fs{23}] at (270pt,4pt) {2021};
\node[anchor=base, font=\fs{23}] at (1022pt,4pt) {Number of followers (log10 scale)};
\node[rotate=90, font=\fs{23}] at (21pt,254pt) {-\hspace{0.8em}Tweet sentiment\hspace{0.8em}+};
\node[rotate=90, font=\fs{23}] at (701pt,253pt) {-\hspace{0.8em}User average sentiment\hspace{0.8em}+};
\node[anchor=base west, font=\fs{18}, inner sep=0pt] at (1043pt,125pt) {Number of tweets};
\node[anchor=base west, font=\fs{18}, inner sep=0pt] at (1043pt,107pt) {per account};
\end{tikzpicture}
\end{document}
